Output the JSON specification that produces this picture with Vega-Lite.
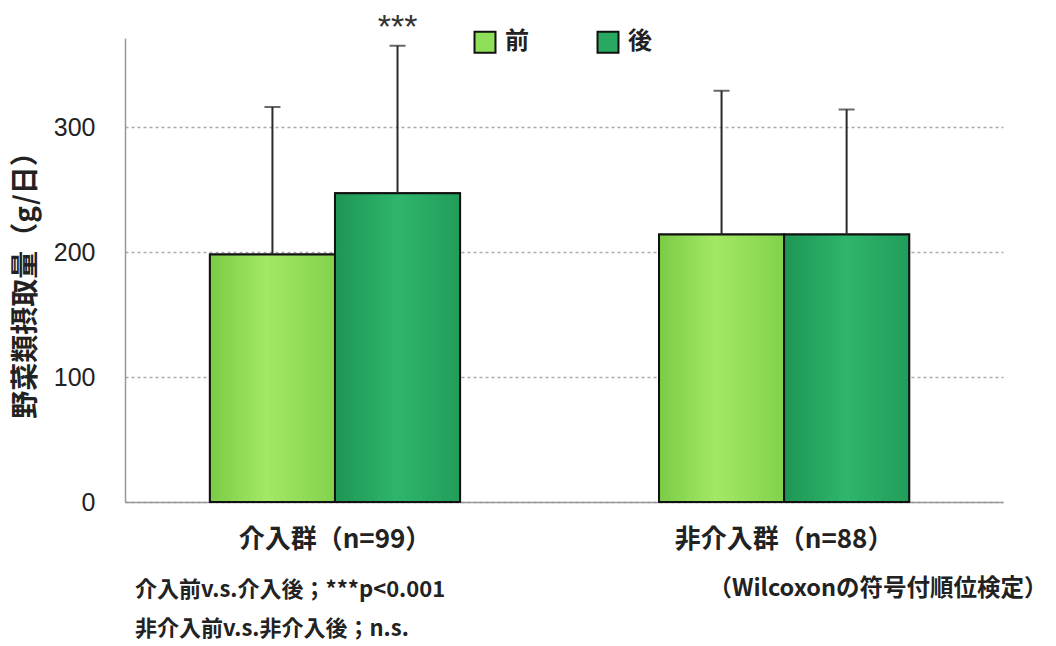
{
  "$schema": "https://vega.github.io/schema/vega-lite/v6.json",
  "width": 878,
  "height": 464,
  "autosize": {"type": "none"},
  "padding": {"left": 125, "top": 38, "right": 53, "bottom": 144},
  "background": "white",
  "config": {"view": {"stroke": null}, "font": "Noto Sans CJK JP"},
  "title": {
    "text": ["介入前v.s.介入後；***p<0.001", "非介入前v.s.非介入後；n.s."],
    "orient": "bottom",
    "anchor": "start",
    "frame": "group",
    "dx": 10,
    "dy": -20,
    "offset": 0,
    "fontSize": 22,
    "fontWeight": "bold",
    "lineHeight": 39,
    "color": "#222"
  },
  "data": {
    "values": [
      {"group": "介入群（n=99）", "period": "前", "mean": 198, "upper": 316, "sig": ""},
      {"group": "介入群（n=99）", "period": "後", "mean": 247, "upper": 365, "sig": "***"},
      {"group": "非介入群（n=88）", "period": "前", "mean": 214, "upper": 329, "sig": ""},
      {"group": "非介入群（n=88）", "period": "後", "mean": 214, "upper": 314, "sig": ""}
    ]
  },
  "encoding": {
    "x": {
      "field": "group",
      "type": "nominal",
      "sort": ["介入群（n=99）", "非介入群（n=88）"],
      "scale": {"paddingInner": 0.443, "paddingOuter": 0.199, "align": 0.475, "round": false},
      "axis": {
        "title": "（Wilcoxonの符号付順位検定）",
        "titleX": 922,
        "titleY": 86,
        "titleAlign": "right",
        "titleBaseline": "middle",
        "titleFontSize": 23.5,
        "titleFontWeight": "bold",
        "titleColor": "#222",
        "titleLimit": 0,
        "labelAngle": 0,
        "labelFontSize": 26,
        "labelFontWeight": "bold",
        "labelColor": "#222",
        "labelPadding": 24,
        "labelLimit": 0,
        "ticks": false,
        "domainColor": "#999",
        "domainWidth": 1.5
      }
    },
    "xOffset": {
      "field": "period",
      "type": "nominal",
      "scale": {"domain": ["前", "後"], "paddingInner": 0, "paddingOuter": 0}
    }
  },
  "layer": [
    {
      "mark": {"type": "bar", "stroke": "#111", "strokeWidth": 2},
      "encoding": {
        "y": {
          "field": "mean",
          "type": "quantitative",
          "title": "野菜類摂取量（g/日）",
          "scale": {"domain": [0, 371.2], "nice": false},
          "axis": {
            "titleFontSize": 28,
            "titleFontWeight": "bold",
            "titleColor": "#222",
            "titleX": -99,
            "titleY": 240,
            "titleAngle": -90,
            "titleAlign": "center",
            "titleBaseline": "middle",
            "titleLimit": 0,
            "values": [0, 100, 200, 300],
            "labelFont": "Liberation Sans",
            "labelFontSize": 25,
            "labelColor": "#222",
            "labelPadding": 30,
            "ticks": false,
            "domainColor": "#999",
            "domainWidth": 1.5,
            "grid": true,
            "gridDash": [3, 3],
            "gridColor": "#aaa",
            "gridWidth": 1.5
          }
        },
        "color": {
          "field": "period",
          "type": "nominal",
          "scale": {"domain": ["前", "後"], "range": ["#8fdf58", "#29a862"]},
          "legend": {
            "orient": "none",
            "legendX": 348,
            "legendY": -8,
            "direction": "horizontal",
            "title": null,
            "padding": 0,
            "symbolType": "square",
            "symbolSize": 440,
            "symbolStrokeColor": "#111",
            "symbolStrokeWidth": 2,
            "symbolOpacity": 1,
            "labelFontSize": 24,
            "labelFontWeight": "bold",
            "labelColor": "#222",
            "labelOffset": 8,
            "columnPadding": 64
          }
        }
      }
    },
    {
      "transform": [{"filter": "datum.period === '前'"}],
      "mark": {
        "type": "bar",
        "stroke": "#111",
        "strokeWidth": 2,
        "fill": {
          "gradient": "linear",
          "x1": 0, "y1": 0, "x2": 1, "y2": 0,
          "stops": [
            {"offset": 0, "color": "#7acb45"},
            {"offset": 0.45, "color": "#a3e866"},
            {"offset": 1, "color": "#82d24c"}
          ]
        }
      },
      "encoding": {"y": {"field": "mean", "type": "quantitative", "title": "野菜類摂取量（g/日）"}}
    },
    {
      "transform": [{"filter": "datum.period === '後'"}],
      "mark": {
        "type": "bar",
        "stroke": "#111",
        "strokeWidth": 2,
        "fill": {
          "gradient": "linear",
          "x1": 0, "y1": 0, "x2": 1, "y2": 0,
          "stops": [
            {"offset": 0, "color": "#1e9654"},
            {"offset": 0.5, "color": "#2eb56c"},
            {"offset": 1, "color": "#219d5a"}
          ]
        }
      },
      "encoding": {"y": {"field": "mean", "type": "quantitative", "title": "野菜類摂取量（g/日）"}}
    },
    {
      "mark": {"type": "rule", "color": "#2a2a2a", "strokeWidth": 2},
      "encoding": {
        "y": {"field": "mean", "type": "quantitative", "title": "野菜類摂取量（g/日）"},
        "y2": {"field": "upper"}
      }
    },
    {
      "mark": {"type": "tick", "orient": "horizontal", "color": "#2a2a2a", "size": 16, "thickness": 2},
      "encoding": {"y": {"field": "upper", "type": "quantitative", "title": "野菜類摂取量（g/日）"}}
    },
    {
      "mark": {"type": "text", "font": "Liberation Sans", "fontSize": 34, "color": "#333", "baseline": "alphabetic", "dy": -8},
      "encoding": {
        "y": {"field": "upper", "type": "quantitative", "title": "野菜類摂取量（g/日）"},
        "text": {"field": "sig"}
      }
    }
  ]
}
